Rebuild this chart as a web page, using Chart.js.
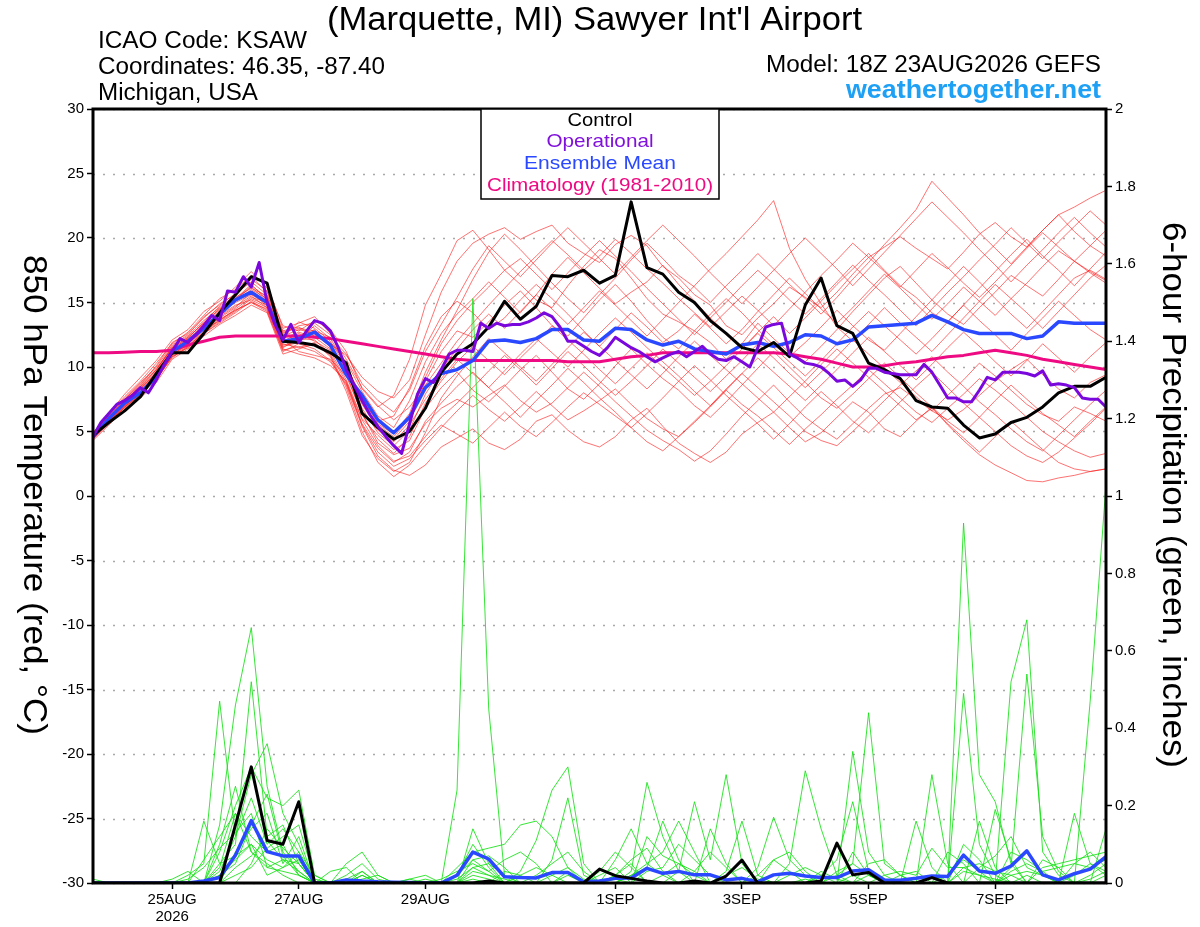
<!DOCTYPE html>
<html>
<head>
<meta charset="utf-8">
<script src="https://cdn.jsdelivr.net/npm/chart.js@4.4.1/dist/chart.umd.min.js"></script>
<style>
  html, body { margin: 0; padding: 0; background: #fff; }
  canvas { display: block; }
</style>
</head>
<body>
<canvas id="myChart" width="1200" height="927"></canvas>
<script>
// forecast hours from 18Z 23AUG2026, 6-hourly (operational is 3-hourly)
var stepHours = 6;
var opStepHours = 3;

var tickHours = [30, 78, 126, 198, 246, 294, 342];
var tickLabels = [["25AUG", "2026"], "27AUG", "29AUG", "1SEP", "3SEP", "5SEP", "7SEP"];

// 850 hPa temperature (C)
var control = [4.7,5.7,6.6,7.7,9.5,11.1,11.1,12.6,14.2,15.6,
  17.0,16.5,12.0,11.9,11.7,11.1,10.3,6.4,5.3,4.4,
  5.0,6.8,9.6,11.0,11.8,13.1,15.1,13.7,14.7,17.1,
  17.0,17.5,16.5,17.1,22.8,17.7,17.2,15.8,15.0,13.6,
  12.6,11.5,11.2,11.9,10.8,14.8,16.9,13.2,12.6,10.3,
  9.8,9.1,7.4,6.9,6.8,5.5,4.5,4.8,5.7,6.1,
  6.9,8.0,8.5,8.5,9.2];

var operational = [4.6,5.7,6.4,7.1,7.4,7.8,8.4,8.0,9.0,10.2,
  11.2,12.2,11.9,12.5,13.2,14.0,13.6,15.9,15.8,17.0,
  16.2,18.1,15.0,13.3,12.1,13.3,11.9,12.8,13.6,13.4,
  12.8,11.5,9.8,8.6,7.4,6.3,5.4,4.6,3.9,3.3,
  5.6,7.9,9.1,8.8,9.8,11.0,11.3,11.3,11.2,13.4,
  13.0,13.4,13.2,13.3,13.3,13.5,13.8,14.2,13.9,13.1,
  12.0,12.0,11.6,11.2,10.9,11.5,12.3,11.9,11.5,11.2,
  10.8,10.4,10.7,11.0,11.2,10.8,11.2,11.6,11.0,10.6,
  10.5,10.8,10.4,10.0,11.5,13.1,13.3,13.4,11.0,10.7,
  10.3,10.2,10.0,9.5,8.9,9.0,8.5,9.0,9.9,9.9,
  9.6,9.5,9.4,9.4,9.4,10.2,9.6,8.6,7.6,7.6,
  7.3,7.3,8.2,9.2,9.0,9.6,9.6,9.6,9.5,9.3,
  9.7,8.6,8.7,8.6,8.4,7.6,7.5,7.5,6.9];

var ensMean = [4.6,6.0,7.2,8.0,9.2,11.2,12.0,13.0,14.1,15.2,
  15.8,15.0,12.0,12.2,12.7,11.7,9.4,7.8,5.9,4.9,
  6.1,8.4,9.5,9.8,10.5,12.0,12.1,11.9,12.2,12.9,
  12.9,12.1,12.0,13.0,12.9,12.1,11.7,12.0,11.4,11.2,
  11.0,11.7,11.9,11.6,11.9,12.5,12.4,11.8,12.1,13.1,
  13.2,13.3,13.4,14.0,13.5,12.9,12.6,12.6,12.6,12.2,
  12.4,13.5,13.4,13.4,13.4];

var climatology = [11.1,11.1,11.15,11.2,11.2,11.3,11.7,12.0,12.3,12.4,
  12.4,12.4,12.4,12.4,12.3,12.2,12.0,11.8,11.6,11.4,
  11.2,11.0,10.8,10.6,10.5,10.5,10.5,10.5,10.5,10.5,
  10.4,10.4,10.4,10.6,10.8,10.9,11.1,11.1,11.1,11.1,
  11.1,11.1,11.1,11.1,11.0,10.8,10.6,10.3,10.0,10.0,
  10.1,10.3,10.4,10.6,10.8,10.9,11.1,11.3,11.1,10.9,
  10.6,10.4,10.2,10.0,9.8];

var tempMembers = [
  [4.8,6.2,7.5,8.6,10.1,11.9,12.6,13.8,14.9,15.6,16.8,15.9,12.8,13.1,12.4,11.8,10.9,9.2,8.1,7.6,9.0,
   12.5,15.8,18.2,19.6,20.3,20.8,19.9,20.5,21.0,19.6,18.8,18.1,19.5,20.2,19.4,17.8,16.9,15.6,14.8,13.2,
   12.5,13.8,14.9,16.2,15.4,14.6,15.8,17.2,18.5,19.3,20.1,19.2,18.4,17.6,18.9,20.3,21.2,20.1,19.3,20.6,
   21.8,22.4,23.1,23.7],
  [4.4,5.6,6.9,7.8,9.2,10.8,11.5,12.6,13.4,14.2,15.1,14.4,11.3,11.6,11.2,10.4,8.6,5.4,3.1,2.0,1.6,
   2.4,3.8,4.5,5.2,4.1,3.6,4.4,5.8,6.3,5.1,4.2,3.8,4.6,5.9,6.8,5.4,4.1,3.3,2.6,3.4,
   4.8,5.7,6.5,5.3,4.2,4.9,6.1,7.3,6.5,5.2,4.6,5.8,6.9,5.5,4.3,3.2,2.4,1.8,1.2,1.1,
   1.4,1.6,1.9,2.1],
  [4.9,6.4,7.9,9.2,10.5,12.1,12.9,14.3,15.1,16.2,17.4,16.1,13.2,12.8,13.6,12.9,11.2,8.3,6.9,7.8,10.6,
   14.8,17.2,19.8,20.6,19.1,17.5,16.4,15.2,14.6,16.3,17.8,19.1,18.4,16.9,15.3,14.1,13.5,12.8,11.9,10.6,
   11.8,13.4,12.2,11.1,10.4,11.6,12.9,14.3,15.6,16.9,17.8,16.5,15.2,14.1,13.3,14.6,15.8,17.1,16.3,15.5,
   16.8,18.2,17.4,16.7],
  [4.6,5.9,7.1,8.3,9.6,11.4,12.2,13.1,14.2,15.0,15.6,14.9,11.9,12.4,12.9,11.5,9.8,7.1,5.2,4.4,5.8,
   8.9,11.2,12.8,12.3,13.5,14.8,15.9,14.6,13.2,12.4,13.8,15.2,16.4,15.1,13.6,12.3,11.4,12.8,14.1,15.3,
   14.2,12.9,11.7,10.8,11.9,13.1,14.4,13.2,12.1,11.3,12.6,13.9,15.2,16.5,17.8,16.6,15.3,14.1,13.0,14.3,
   15.6,16.9,17.5,16.8],
  [4.5,5.8,6.8,7.9,9.0,10.9,11.8,12.9,13.6,14.5,15.4,15.0,12.1,11.2,10.9,10.6,9.3,6.4,4.1,3.2,3.7,
   5.6,6.8,7.5,6.9,7.8,8.6,7.4,6.5,7.2,8.4,9.6,8.5,7.3,6.2,5.1,4.3,3.6,2.7,3.5,4.8,
   6.2,7.4,8.6,7.3,6.1,5.2,4.4,5.6,6.8,7.9,8.4,7.5,6.6,5.9,6.7,7.8,8.9,9.8,10.6,9.4,
   8.3,7.6,8.8,9.4],
  [4.7,6.1,7.4,8.5,9.8,11.6,12.4,13.6,14.6,15.3,16.4,15.2,12.4,12.9,12.6,11.9,10.4,8.1,6.2,5.3,7.4,
   10.4,12.6,14.1,15.3,16.6,15.4,14.2,15.6,17.2,18.5,17.3,16.1,14.9,15.8,16.6,17.9,16.4,15.1,13.8,12.6,
   11.4,12.7,13.9,12.6,13.8,15.1,16.4,17.6,18.8,17.5,16.3,15.4,14.2,13.5,14.8,16.1,17.4,18.7,19.9,18.6,
   17.5,16.3,17.6,18.9],
  [4.5,5.7,7.0,8.1,9.4,11.2,11.9,13.0,14.0,14.8,15.2,14.6,11.6,11.9,11.7,11.2,9.0,6.0,4.7,3.6,4.3,
   6.8,8.4,9.6,8.2,7.3,8.5,9.8,10.9,9.6,8.3,7.5,8.7,10.1,11.4,10.2,9.1,8.2,7.0,6.1,7.3,
   8.6,9.9,11.2,10.0,8.8,7.6,6.8,7.9,9.1,10.3,9.2,8.0,6.9,5.8,4.9,6.1,7.4,8.6,7.5,6.4,
   5.5,4.6,5.8,6.9],
  [4.8,6.3,7.7,8.9,10.3,11.8,12.7,14.0,15.3,16.0,17.1,16.4,13.0,13.4,13.9,12.6,10.1,7.6,5.6,4.8,6.4,
   9.6,12.1,14.4,16.8,18.9,20.3,19.1,17.8,16.5,15.3,14.2,15.6,16.9,18.3,19.6,18.4,17.1,16.2,15.0,16.3,
   17.5,18.8,17.6,16.4,15.3,14.1,15.4,16.8,18.1,19.5,20.8,22.2,24.4,23.1,21.8,20.4,19.2,18.0,19.3,20.6,
   21.8,20.5,19.4,18.6],
  [4.3,5.5,6.7,7.6,8.8,10.6,11.4,12.4,13.3,14.0,14.8,14.2,11.0,11.4,11.8,10.9,8.4,5.0,2.6,1.5,2.4,
   3.9,5.3,6.6,7.8,6.7,5.8,6.9,8.1,7.0,5.9,6.6,7.4,8.3,7.1,6.0,5.2,4.6,5.7,6.9,8.2,
   7.1,6.2,5.1,4.0,5.2,6.3,7.5,8.6,9.8,8.7,7.6,6.5,5.7,6.8,7.9,9.1,8.2,7.2,6.1,5.0,
   4.2,3.5,3.0,3.3],
  [4.6,6.0,7.3,8.4,9.7,11.5,12.3,13.4,14.5,15.4,16.1,15.5,12.5,12.1,13.2,12.2,10.2,7.4,5.8,6.2,8.4,
   11.6,13.9,15.1,14.2,12.9,13.8,15.2,16.4,15.3,14.1,12.8,11.6,12.9,14.2,13.1,11.9,12.8,14.1,13.0,11.8,
   12.9,14.3,15.6,16.9,15.7,14.5,13.4,14.6,15.9,17.2,16.1,14.9,13.7,14.9,16.2,15.1,14.0,15.3,16.5,17.8,
   19.0,18.2,17.3,16.5],
  [4.4,5.8,7.0,8.0,9.3,11.0,11.7,12.8,13.8,14.6,15.8,14.7,11.5,12.2,12.1,11.0,8.8,5.9,3.9,2.7,3.1,
   4.6,6.1,7.2,8.4,9.7,10.9,9.8,8.6,9.9,11.2,10.1,8.9,7.8,8.9,10.1,11.4,10.3,9.2,8.1,9.3,
   10.5,11.8,10.7,9.5,8.4,9.6,10.8,12.1,11.0,9.9,8.8,7.7,6.6,7.8,9.0,10.3,9.3,8.2,7.1,6.3,
   5.8,6.9,6.4,5.8],
  [4.7,6.0,7.2,8.3,9.5,11.3,12.0,13.2,14.3,15.1,16.0,15.3,12.2,12.7,12.3,11.4,9.6,6.8,4.9,3.9,5.1,
   7.9,9.8,11.4,12.9,14.1,13.0,14.3,15.6,14.5,13.3,14.6,15.9,14.8,13.6,12.4,13.7,15.0,16.3,17.6,18.8,
   20.1,21.4,22.9,19.2,16.8,14.9,13.1,12.0,13.3,14.6,13.4,12.3,11.2,12.5,13.8,15.1,16.4,15.3,14.2,13.0,
   14.3,15.6,16.9,17.9],
  [4.5,5.9,7.1,8.2,9.1,10.7,11.6,12.7,13.7,14.4,15.0,14.5,11.4,11.0,10.7,10.1,8.9,5.5,3.4,2.3,2.9,
   4.3,5.5,4.8,4.1,5.3,6.5,5.4,4.6,5.7,6.9,8.0,7.1,6.2,5.3,4.2,3.5,4.6,5.8,7.0,8.3,
   9.5,8.4,7.3,6.2,5.0,4.3,3.9,5.0,6.2,7.4,8.6,9.7,10.8,9.6,8.5,7.3,6.3,5.2,4.2,3.5,
   4.7,5.9,7.1,8.2],
  [4.9,6.2,7.6,8.8,10.0,11.7,12.5,13.9,14.8,15.7,16.6,15.6,12.7,13.0,12.8,12.3,11.0,8.7,7.4,6.5,8.2,
   11.2,13.3,15.4,17.6,19.4,18.2,17.0,18.3,19.6,20.8,19.6,18.4,17.2,18.5,19.8,21.0,19.8,18.6,17.3,16.1,
   14.9,16.2,17.5,18.8,20.0,18.8,17.6,16.3,17.6,18.9,20.2,21.5,22.8,21.6,20.4,19.1,17.9,16.6,17.9,19.1,
   20.4,21.6,20.4,19.3],
  [4.6,5.9,7.2,8.3,9.5,11.1,12.1,13.3,14.4,15.2,16.2,15.1,12.0,12.6,12.0,11.3,9.5,6.3,4.4,3.3,4.6,
   7.2,8.9,10.4,11.6,10.5,9.4,10.7,11.9,13.2,12.1,11.0,9.8,8.7,9.9,11.1,10.0,8.9,7.8,8.9,10.1,
   11.4,12.6,11.5,10.4,9.3,10.5,11.8,13.1,14.3,13.2,12.1,11.0,12.2,13.5,14.8,13.6,12.5,11.3,12.6,13.8,
   15.1,14.0,12.9,12.1],
  [4.4,5.7,6.9,8.0,9.0,10.8,11.5,12.6,13.5,14.3,15.3,14.8,11.8,11.5,11.9,10.8,8.1,4.7,2.9,1.9,2.6,
   4.9,7.6,9.3,10.8,12.2,11.1,10.0,8.9,10.2,11.5,12.7,11.6,10.5,9.4,8.3,9.5,10.8,12.0,10.9,9.8,
   8.7,7.6,6.5,7.7,8.9,10.2,11.4,10.3,9.2,8.1,7.0,5.9,6.8,5.6,4.5,3.4,4.6,5.8,4.7,3.6,
   2.6,2.1,1.9,2.1],
  [4.7,6.1,7.5,8.7,9.9,11.4,12.2,13.5,14.7,15.5,17.0,15.8,12.6,13.2,13.4,12.5,10.6,8.4,7.0,5.9,6.9,
   8.6,10.3,12.0,13.4,14.8,16.1,17.4,18.6,19.8,18.7,17.5,18.6,19.9,18.8,17.6,16.5,15.3,14.2,13.1,14.3,
   15.5,14.4,13.2,14.5,15.8,17.1,18.3,19.6,18.5,17.4,16.2,17.5,18.8,17.7,16.5,15.4,16.6,17.9,19.2,20.4,
   19.3,18.2,19.4,20.6],
  [4.5,5.8,7.0,8.1,9.4,11.0,11.8,12.9,13.9,14.7,15.5,14.6,11.7,12.0,12.5,11.6,9.9,6.6,5.1,4.2,5.5,
   7.5,9.1,10.6,9.5,8.4,9.7,11.0,12.2,11.1,10.0,11.3,12.6,13.8,12.7,11.5,10.4,9.3,8.1,7.0,8.2,
   9.5,10.7,9.6,8.5,7.4,8.6,9.8,11.1,12.3,11.2,10.1,9.0,10.2,11.5,12.7,11.6,10.4,9.3,10.5,11.8,
   10.7,9.6,10.8,11.9],
  [4.6,6.0,7.4,8.5,9.8,11.5,12.3,13.4,14.5,15.2,16.3,15.4,12.3,13.5,13.0,12.0,10.0,7.2,5.5,4.6,6.0,
   9.2,11.8,13.6,15.0,16.2,17.5,18.4,17.2,16.0,17.3,18.6,19.8,18.6,17.4,16.1,14.9,13.7,12.5,13.8,15.0,
   16.3,17.5,16.4,15.2,14.1,15.3,16.6,17.9,16.7,15.6,14.4,13.2,14.5,15.8,17.0,18.3,19.5,20.8,19.6,18.4,
   19.7,20.9,22.1,21.0],
  [4.5,5.7,6.9,7.9,9.1,10.9,11.6,12.7,13.6,14.4,15.0,14.3,11.2,11.8,11.4,10.5,8.7,5.6,3.7,2.6,3.4,
   5.8,7.2,8.5,9.6,8.4,7.3,6.1,7.4,8.6,9.9,8.8,7.6,6.5,5.3,6.4,7.6,8.9,10.1,9.0,7.8,
   6.7,5.6,4.4,5.6,6.9,8.1,7.0,5.8,4.9,6.1,7.3,8.5,9.6,8.4,7.2,6.1,5.0,3.9,3.1,2.6,
   3.4,4.5,5.6,6.8]
];

// 6-hour precipitation (inches)
var precipControl = [0,0,0,0,0,0,0,0,0,.15,.30,.11,.10,
  .21,0,0,0,0,0,0,0,0,0,0,0,.005,
  0,0,0,0,0,0,.036,.019,.012,.005,0,0,.005,
  0,.018,.059,0,0,0,0,.005,.103,.021,.027,0,0,
  0,.014,0,0,0,0,0,0,0,0,0,0,0];

var precipMean = [0,0,0,0,0,0,0,.005,.014,.072,.161,.081,.070,
  .070,0,0,.008,.005,.003,.002,.001,0,0,.02,.08,.062,
  .016,.014,.013,.027,.027,.003,.005,.012,.013,.038,.025,.030,.021,
  .021,.008,.012,.003,.021,.025,.018,.014,.014,.031,.034,.008,.007,
  .012,.018,.017,.072,.031,.025,.044,.083,.021,.008,.024,.036,.068];

var precipMembers = [
  [0,0,0,0,0,0,0,0,.15,.46,.66,.25,.08,
   .03,0,0,0,.02,0,0,0,0,0,.24,1.51,.45,
   .02,0,0,0,0,0,0,.02,.05,0,0,0,0,
   0,0,0,0,0,0,0,0,0,0,0,0,0,
   0,0,0,0,0,0,0,0,0,0,0,0,0],
  [0,0,0,0,0,0,0,.16,.05,.10,.52,.12,.15,
   .05,0,0,0,0,0,0,0,0,0,0,.14,.05,
   0,.03,.11,.24,.30,.05,0,0,0,0,0,0,0,
   0,0,0,0,0,0,0,0,.03,.05,.44,.05,.02,
   0,0,0,0,0,0,0,0,0,0,0,0,0],
  [0,0,0,0,0,0,.02,.05,.47,.12,.28,.36,.18,
   .10,0,0,.05,.08,.02,0,0,0,0,0,0,0,
   0,0,0,0,0,0,0,0,.03,.26,.12,.03,0,
   0,0,0,0,0,0,0,0,0,0,0,0,0,
   0,0,0,.93,.28,.21,.05,0,0,0,0,0,0],
  [0,0,0,0,0,0,0,0,.08,.20,.30,.22,.20,
   .24,.02,0,0,0,0,0,0,0,0,.04,.08,.09,
   .10,.15,.16,.12,.04,0,0,0,0,0,0,0,0,
   0,0,0,0,0,0,0,0,0,0,0,0,0,
   0,0,0,0,0,0,.52,.68,.08,.02,0,0,0],
  [0,0,0,0,0,.01,.03,0,.03,.12,.22,.10,.14,
   .08,0,.03,.04,0,0,0,0,0,.01,.03,.05,.03,
   .06,.08,.05,0,0,0,0,0,0,0,0,.03,.21,
   .06,.28,.05,0,0,0,0,0,0,0,0,0,0,
   0,0,0,0,0,0,0,0,0,0,.18,.05,.03],
  [0,0,0,0,0,0,0,0,0,.08,.14,.18,.05,
   .12,0,0,0,0,0,0,.01,.02,0,0,0,0,
   0,0,0,.06,.22,.02,0,0,0,0,0,0,0,
   0,.03,.16,.02,0,.05,.29,.14,.02,0,0,0,0,
   0,0,0,.49,.10,.02,0,0,0,0,0,.47,1.03],
  [.01,0,0,0,0,0,0,0,.02,.06,.10,.06,.04,
   .06,0,0,.02,.05,.01,0,0,0,0,0,.04,.02,
   0,0,0,0,0,0,0,.06,.14,.05,.08,.16,.08,
   0,0,0,0,0,0,0,0,0,.08,.02,0,0,
   .16,.04,0,0,0,0,.04,.54,.12,.03,0,0,0],
  [0,0,0,0,0,0,0,0,.04,.18,.12,.08,.10,
   .02,0,0,0,.03,0,0,0,.01,0,.02,.06,.07,
   .04,0,0,0,.03,0,.02,.04,0,.12,.07,.05,.03,
   0,0,0,.04,.17,.06,.02,0,0,.34,.08,.02,0,
   0,.28,.05,0,.16,.04,0,0,0,0,0,0,.14],
  [0,0,0,0,0,0,0,0,0,.04,.07,.11,.06,
   .03,0,0,.01,0,0,0,0,0,0,0,.01,0,
   .03,.02,0,0,0,0,0,0,.02,.04,.16,.06,0,
   .14,.05,0,0,0,0,0,.02,.06,.21,.03,0,.02,
   .03,0,.08,.05,0,.19,.06,0,0,0,.05,.08,.04],
  [0,0,0,0,0,0,0,0,.10,.25,.08,.04,.03,
   .02,0,0,0,.02,0,0,.01,0,0,.02,.10,.04,
   0,0,0,.02,.04,.01,0,0,0,.03,.04,.10,.06,
   .02,0,0,0,.06,.08,.03,0,0,0,0,.02,.03,
   .02,.09,.04,.04,.05,.03,.02,0,.04,.05,.06,.07,.08],
  [0,0,0,0,0,0,0,0,0,.02,.04,.09,.12,
   .15,.01,0,0,0,0,0,0,0,0,0,.02,.01,
   0,0,0,0,0,0,0,.02,.06,.09,.03,0,0,
   0,.02,.04,.01,0,0,0,0,0,0,.05,.06,.02,
   0,.02,0,.10,.06,0,.03,.05,.03,.04,.05,.04,.06],
  [0,0,0,0,0,0,0,0,0,0,.05,.14,.09,
   .05,0,0,.01,.03,0,0,0,0,0,0,0,0,
   0,0,.02,.05,.08,.03,0,0,0,0,0,0,.03,
   .08,.04,0,0,0,0,0,.03,.01,0,.02,.01,0,
   0,0,0,.04,.02,0,.08,.06,.03,0,0,0,0],
  [0,0,0,0,0,0,0,.06,.12,.18,.08,.05,.02,
   0,0,0,0,0,0,0,0,0,0,0,.03,.02,
   .01,0,0,0,0,0,.03,.08,.04,0,0,0,0,
   0,0,0,0,0,.02,.04,.02,0,0,0,0,0,
   0,0,0,0,.04,.07,.12,.04,.02,0,.02,.05,.02],
  [0,0,0,0,0,0,0,0,.02,.05,.15,.23,.07,
   .02,0,0,0,0,0,0,0,0,0,0,.06,.03,
   0,.02,.04,.02,0,0,0,0,.02,.05,.02,0,0,
   0,0,0,.02,.06,.03,0,0,.02,.05,.02,0,0,
   0,0,.02,.06,.03,0,0,.02,0,0,0,.02,.05],
  [0,0,0,0,0,0,.01,.04,.09,.13,.18,.04,.06,
   .05,0,0,0,0,0,0,0,0,0,.01,.04,.05,
   .02,0,0,0,0,0,0,.01,0,0,.02,.05,.02,
   0,0,0,0,0,0,0,0,0,.02,0,0,0,
   0,0,0,.03,.02,.01,0,0,.06,.04,0,0,.02],
  [0,0,0,0,0,0,0,0,.05,.07,.10,.02,.04,
   .08,.02,0,0,.01,.02,0,0,0,0,0,0,0,
   0,0,0,0,.02,0,0,0,0,0,0,0,0,
   0,0,0,0,0,0,.01,0,0,0,0,0,0,
   0,0,0,0,0,0,.02,.03,.02,0,0,.01,.03]
];

var legendItems = ["Control", "Operational", "Ensemble Mean", "Climatology (1981-2010)"];
var legendColors = ["#000000", "#8010dc", "#2a48ff", "#ee0a82"];

function toPoints(arr, step) {
  return arr.map(function (v, i) { return { x: i * step, y: v }; });
}

var datasets = [];
tempMembers.forEach(function (m) {
  datasets.push({ data: toPoints(m, stepHours), yAxisID: "y", borderColor: "rgba(255,20,20,0.6)", borderWidth: 1, order: 20 });
});
precipMembers.forEach(function (m) {
  datasets.push({ data: toPoints(m, stepHours), yAxisID: "y1", borderColor: "rgba(20,225,20,0.85)", borderWidth: 1, order: 19 });
});
datasets.push({ data: toPoints(precipMean, stepHours), yAxisID: "y1", borderColor: "#2a48ff", borderWidth: 3.5, order: 6 });
datasets.push({ data: toPoints(precipControl, stepHours), yAxisID: "y1", borderColor: "#000", borderWidth: 3, order: 5 });
datasets.push({ data: toPoints(climatology, stepHours), yAxisID: "y", borderColor: "#ee0a82", borderWidth: 3, order: 4 });
datasets.push({ data: toPoints(ensMean, stepHours), yAxisID: "y", borderColor: "#2a48ff", borderWidth: 3.5, order: 3 });
datasets.push({ data: toPoints(control, stepHours), yAxisID: "y", borderColor: "#000", borderWidth: 3, order: 2 });
datasets.push({ data: toPoints(operational, opStepHours), yAxisID: "y", borderColor: "#7a08dc", borderWidth: 3, order: 1 });

// draws text squeezed/stretched to a given width
function fitText(ctx, text, x, y, width, rot) {
  var w = ctx.measureText(text).width;
  ctx.save();
  ctx.translate(x, y);
  if (rot) ctx.rotate(rot);
  ctx.scale(width / w, 1);
  ctx.fillText(text, 0, 0);
  ctx.restore();
}

var frame = {
  id: "frame",
  beforeDatasetsDraw: function (chart) {
    var ctx = chart.ctx, a = chart.chartArea, y = chart.scales.y;
    ctx.save();
    ctx.strokeStyle = "#a8a8a8";
    ctx.lineWidth = 1.5;
    ctx.setLineDash([2, 8]);
    y.ticks.forEach(function (t) {
      var py = Math.round(y.getPixelForValue(t.value)) + 0.5;
      ctx.beginPath();
      ctx.moveTo(a.left, py);
      ctx.lineTo(a.right, py);
      ctx.stroke();
    });
    ctx.restore();
  },
  afterDatasetsDraw: function (chart) {
    var ctx = chart.ctx, a = chart.chartArea;
    ctx.save();
    ctx.strokeStyle = "#000";
    ctx.lineWidth = 3;
    ctx.strokeRect(a.left, a.top, a.right - a.left, a.bottom - a.top);

    // legend box
    ctx.fillStyle = "#fff";
    ctx.fillRect(481, 109, 238, 90);
    ctx.lineWidth = 1.5;
    ctx.strokeRect(481, 109, 238, 90);
    ctx.font = "19px 'Liberation Sans', Arial, sans-serif";
    ctx.textAlign = "center";
    ctx.textBaseline = "middle";
    var ly = [121, 142, 164, 186];
    var lw = [65, 107, 152, 226];
    legendItems.forEach(function (t, i) {
      ctx.fillStyle = legendColors[i];
      fitText(ctx, t, 600, ly[i], lw[i]);
    });

    // header
    ctx.fillStyle = "#000";
    ctx.textBaseline = "alphabetic";
    ctx.font = "33px 'Liberation Sans', Arial, sans-serif";
    ctx.textAlign = "center";
    fitText(ctx, "(Marquette, MI) Sawyer Int'l Airport", 594.5, 30, 535);
    ctx.font = "23px 'Liberation Sans', Arial, sans-serif";
    ctx.textAlign = "left";
    fitText(ctx, "ICAO Code: KSAW", 98, 48, 209);
    fitText(ctx, "Coordinates: 46.35, -87.40", 98, 74, 287);
    fitText(ctx, "Michigan, USA", 98, 100, 160);
    ctx.textAlign = "right";
    fitText(ctx, "Model: 18Z 23AUG2026 GEFS", 1101, 72, 335);
    ctx.fillStyle = "#1ea0f5";
    ctx.font = "bold 25px 'Liberation Sans', Arial, sans-serif";
    fitText(ctx, "weathertogether.net", 1101, 98, 255);

    // axis titles
    ctx.fillStyle = "#000";
    ctx.font = "33px 'Liberation Sans', Arial, sans-serif";
    ctx.textAlign = "center";
    ctx.textBaseline = "middle";
    fitText(ctx, "850 hPa Temperature (red, \u00B0C)", 33, 495, 480, Math.PI / 2);
    fitText(ctx, "6-hour Precipitation (green, inches)", 1172, 495, 546, Math.PI / 2);
    ctx.restore();
  }
};

Chart.defaults.font.family = "'Liberation Sans', Arial, sans-serif";
Chart.defaults.color = "#000";

var ctx = document.getElementById("myChart").getContext("2d");
new Chart(ctx, {
  type: "line",
  data: { datasets: datasets },
  options: {
    responsive: false,
    animation: false,
    devicePixelRatio: 1,
    layout: { padding: { top: 109 } },
    elements: { point: { radius: 0 }, line: { tension: 0, borderJoinStyle: "round" } },
    plugins: { legend: { display: false }, tooltip: { enabled: false } },
    scales: {
      x: {
        type: "linear", min: 0, max: 384,
        afterBuildTicks: function (s) { s.ticks = tickHours.map(function (h) { return { value: h }; }); },
        afterFit: function (s) { s.height = 44; },
        ticks: {
          callback: function (v, i) { return tickLabels[i]; },
          font: { size: 15, lineHeight: 1.15 }, padding: 2, maxRotation: 0, autoSkip: false
        },
        grid: { drawOnChartArea: false, tickLength: 6, tickColor: "#000", tickWidth: 1.5 },
        border: { display: false }
      },
      y: {
        position: "left", min: -30, max: 30,
        afterFit: function (s) { s.width = 93; },
        ticks: { stepSize: 5, font: { size: 15 }, padding: 3 },
        grid: { drawOnChartArea: false, tickLength: 6, tickColor: "#000", tickWidth: 1.5 },
        border: { display: false }
      },
      y1: {
        position: "right", min: 0, max: 2,
        afterFit: function (s) { s.width = 94; },
        ticks: {
          stepSize: 0.2, font: { size: 15 }, padding: 3,
          callback: function (v) { return String(parseFloat(v.toFixed(1))); }
        },
        grid: { drawOnChartArea: false, tickLength: 6, tickColor: "#000", tickWidth: 1.5 },
        border: { display: false }
      }
    }
  },
  plugins: [frame]
});
</script>
</body>
</html>
